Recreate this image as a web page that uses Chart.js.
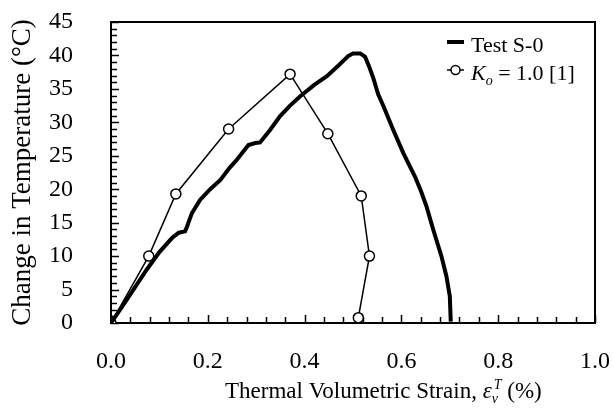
<!DOCTYPE html>
<html>
<head>
<meta charset="utf-8">
<script src="https://cdn.jsdelivr.net/npm/chart.js@4.4.1/dist/chart.umd.min.js"></script>
<style>
  html, body { margin: 0; padding: 0; background: #fff; }
  canvas { display: block; }
</style>
</head>
<body>
<canvas id="chart" width="614" height="408"></canvas>
<script>
const testStrain = [0.000, 0.030, 0.074, 0.100, 0.126, 0.140, 0.153, 0.157, 0.160, 0.167, 0.184, 0.205, 0.226, 0.245, 0.260, 0.284, 0.298, 0.308, 0.329, 0.349, 0.370, 0.391, 0.420, 0.446, 0.470, 0.490, 0.500, 0.515, 0.525, 0.533, 0.542, 0.552, 0.563, 0.583, 0.604, 0.628, 0.640, 0.652, 0.666, 0.683, 0.693, 0.700, 0.702];
const testTemp   = [0.0, 3.2, 8.0, 10.6, 12.7, 13.5, 13.7, 14.4, 15.0, 16.4, 18.4, 20.0, 21.4, 23.2, 24.4, 26.6, 26.9, 27.0, 28.9, 30.9, 32.5, 33.9, 35.6, 36.9, 38.5, 39.9, 40.3, 40.3, 39.8, 38.4, 36.6, 34.2, 32.4, 28.9, 25.4, 21.9, 19.8, 17.4, 13.9, 9.9, 7.0, 4.0, 0.2];

// Ko = 1.0 [1]
const koStrain = [0.000, 0.078, 0.134, 0.243, 0.370, 0.448, 0.517, 0.534, 0.511];
const koTemp   = [0.0, 10.0, 19.3, 29.0, 37.2, 28.3, 19.0, 10.0, 0.8];

const xMajor = 0.2, xMinor = 0.04;
const yMajor = 5, yMinor = 1;

const serif = '"Liberation Serif", "Times New Roman", serif';

function pts(xs, ys) {
    return xs.map((x, i) => ({ x: x, y: ys[i] }));
}
function isMajor(v, step) {
    return Math.abs(v / step - Math.round(v / step)) < 1e-6;
}
function noPad(s) {
    s.paddingLeft = 0; s.paddingRight = 0;
    s.paddingTop = 0; s.paddingBottom = 0;
}

// inside tick marks + full frame
const framePlugin = {
    id: 'frame',
    beforeDatasetsDraw(chart) {
        const { ctx, scales } = chart;
        const xs = scales.x, ys = scales.y;
        const L = xs.getPixelForValue(xs.min), R = xs.getPixelForValue(xs.max);
        const T = ys.getPixelForValue(ys.max), B = ys.getPixelForValue(ys.min);
        ctx.save();
        ctx.strokeStyle = '#000';
        ctx.lineWidth = 1.5;
        ctx.beginPath();
        xs.ticks.forEach(t => {
            const px = Math.round(xs.getPixelForValue(t.value)) + 0.5;
            const len = isMajor(t.value, xMajor) ? 8 : 6;
            ctx.moveTo(px, B);
            ctx.lineTo(px, B - len);
        });
        ys.ticks.forEach(t => {
            const py = Math.round(ys.getPixelForValue(t.value)) + 0.5;
            const len = isMajor(t.value, yMajor) ? 8 : 6;
            ctx.moveTo(L, py);
            ctx.lineTo(L + len, py);
        });
        ctx.stroke();
        ctx.lineWidth = 2;
        ctx.beginPath();
        ctx.moveTo(L, T);
        ctx.lineTo(R, T);
        ctx.lineTo(R, B);
        ctx.lineTo(L, B);
        ctx.closePath();
        ctx.stroke();
        ctx.restore();
    },
    afterDraw(chart) {
        const { ctx } = chart;
        ctx.save();
        ctx.fillStyle = '#000';
        ctx.textBaseline = 'alphabetic';
        ctx.textAlign = 'left';

        // x-axis title with epsilon_v^T
        let x = 225, y = 398;
        const put = (txt, font, dy) => {
            ctx.font = font;
            ctx.fillText(txt, x, y + (dy || 0));
            x += ctx.measureText(txt).width;
        };
        put('Thermal Volumetric Strain, ', '23px ' + serif);
        put('\u03b5', 'italic 23px ' + serif);
        const sx = x;
        put('v', 'italic 14px ' + serif, 5);
        x = sx + 2;
        put('T', 'italic 14px ' + serif, -9);
        put(' (%)', '23px ' + serif);

        // legend
        const ds = chart.data.datasets;
        ctx.strokeStyle = '#000';
        ctx.lineWidth = ds[0].borderWidth;
        ctx.beginPath();
        ctx.moveTo(447, 42);
        ctx.lineTo(464, 42);
        ctx.stroke();
        x = 471; y = 52;
        put(ds[0].label, '22px ' + serif);

        ctx.lineWidth = ds[1].borderWidth;
        ctx.beginPath();
        ctx.moveTo(447, 70);
        ctx.lineTo(464, 70);
        ctx.stroke();
        ctx.beginPath();
        ctx.arc(455.5, 70, 4.5, 0, Math.PI * 2);
        ctx.fillStyle = '#fff';
        ctx.fill();
        ctx.stroke();
        ctx.fillStyle = '#000';
        x = 471; y = 80;
        put('K', 'italic 22px ' + serif);
        put('o', 'italic 14px ' + serif, 5);
        put(' = 1.0 [1]', '22px ' + serif);
        ctx.restore();
    }
};

new Chart(document.getElementById('chart'), {
    type: 'scatter',
    data: {
        datasets: [
            {
                label: 'Test S-0',
                data: pts(testStrain, testTemp),
                showLine: true,
                borderColor: '#000',
                borderWidth: 4,
                pointRadius: 0,
                tension: 0
            },
            {
                label: 'Ko = 1.0 [1]',
                data: pts(koStrain, koTemp),
                showLine: true,
                borderColor: '#000',
                borderWidth: 1.5,
                pointRadius: 5,
                pointBackgroundColor: '#fff',
                pointBorderColor: '#000',
                pointBorderWidth: 1.5,
                tension: 0
            }
        ]
    },
    options: {
        responsive: false,
        animation: false,
        layout: { padding: { left: 0, top: 22, right: 19, bottom: 0 } },
        plugins: {
            legend: { display: false },
            tooltip: { enabled: false }
        },
        scales: {
            x: {
                type: 'linear',
                min: 0,
                max: 1,
                afterFit: s => { s.height = 85; noPad(s); },
                grid: { display: false, drawTicks: false },
                border: { display: false },
                ticks: {
                    stepSize: xMinor,
                    autoSkip: false,
                    maxRotation: 0,
                    padding: 24,
                    color: '#000',
                    font: { family: serif, size: 24 },
                    callback: v => isMajor(v, xMajor) ? v.toFixed(1) : ''
                }
            },
            y: {
                type: 'linear',
                min: 0,
                max: 45,
                afterFit: s => { s.width = 111; noPad(s); },
                grid: { display: false, drawTicks: false },
                border: { display: false },
                ticks: {
                    stepSize: yMinor,
                    autoSkip: false,
                    padding: 38,
                    color: '#000',
                    font: { family: serif, size: 24 },
                    callback: v => isMajor(v, yMajor) ? String(v) : ''
                },
                title: {
                    display: true,
                    text: 'Change in Temperature (\u00b0C)',
                    color: '#000',
                    font: { family: serif, size: 27 },
                    padding: { top: 7, bottom: 0 }
                }
            }
        }
    },
    plugins: [framePlugin]
});
</script>
</body>
</html>
